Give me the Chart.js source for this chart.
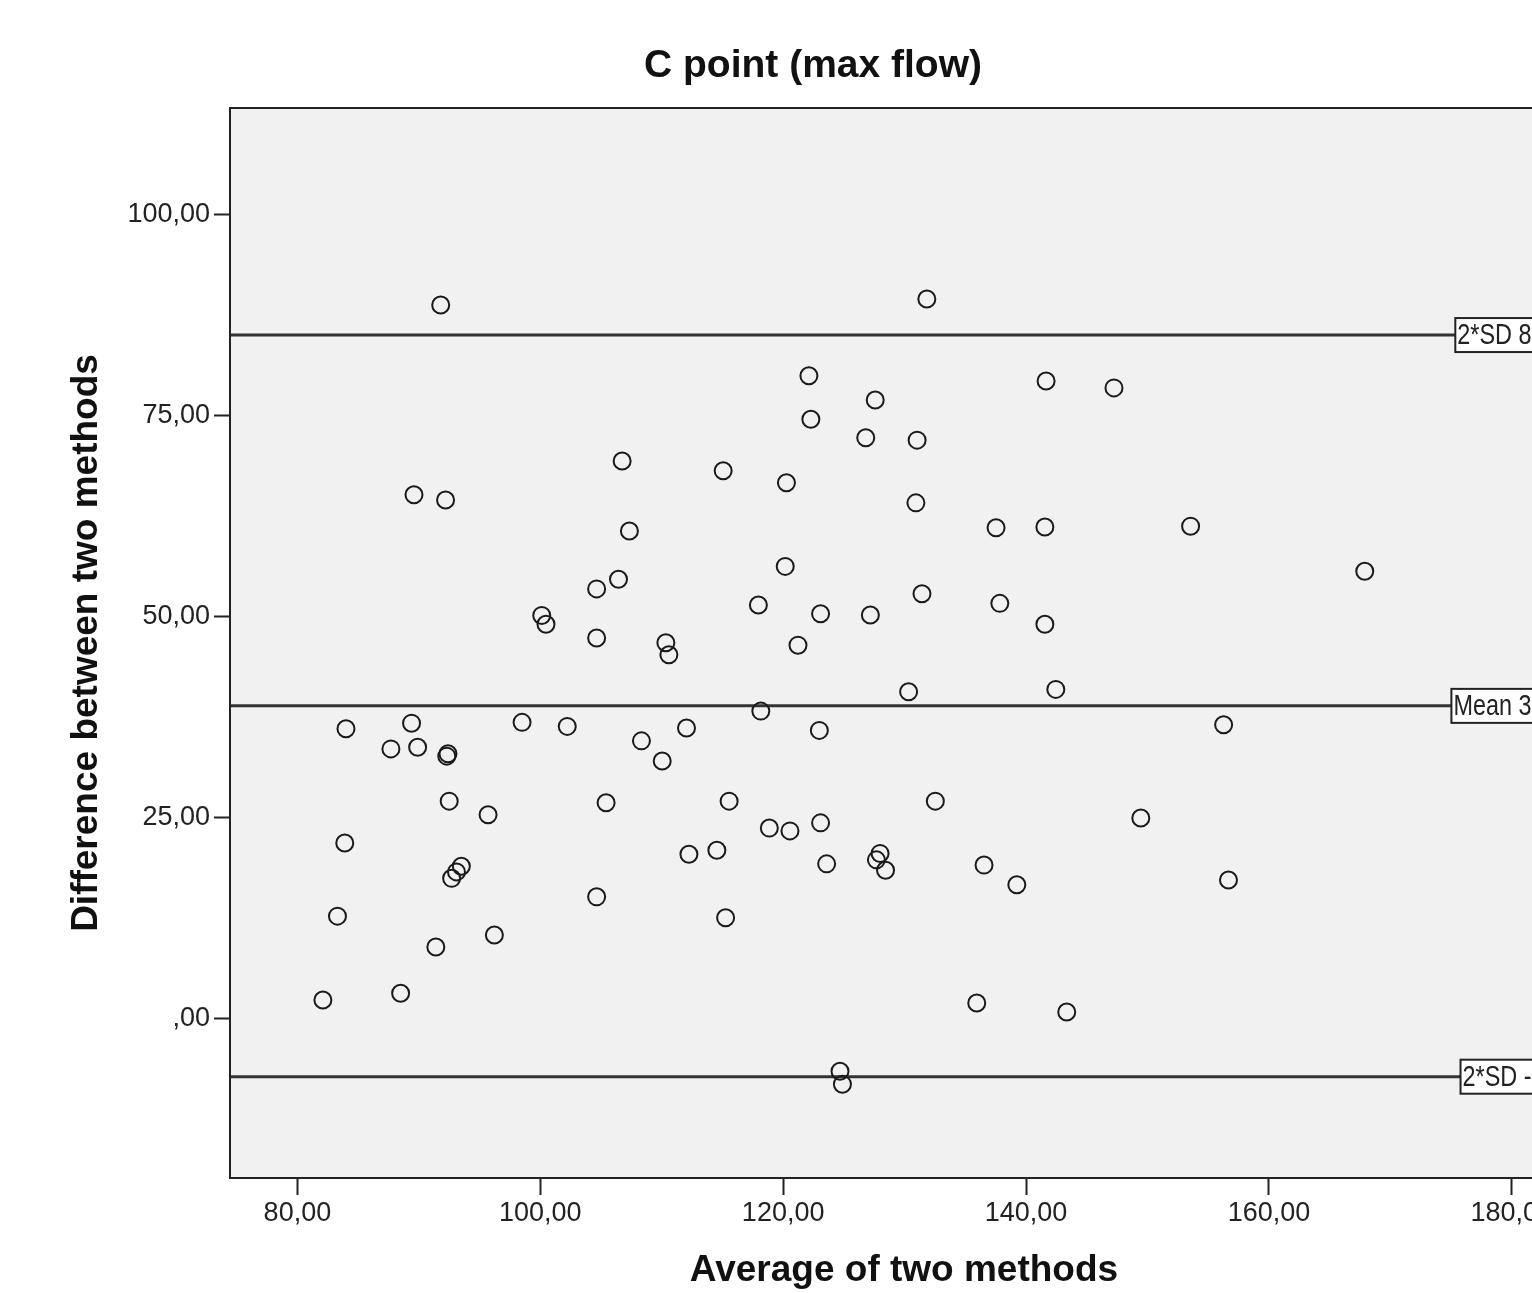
<!DOCTYPE html>
<html>
<head>
<meta charset="utf-8">
<title>C point (max flow)</title>
<script src="https://cdn.jsdelivr.net/npm/chart.js@4.4.1/dist/chart.umd.min.js"></script>
<style>
  html, body { margin: 0; padding: 0; background: #fff; overflow: hidden; }
  canvas { display: block; }
</style>
</head>
<body>
<canvas id="blandAltman" width="1626" height="1293"></canvas>
<script>
// averages of the two methods (x) and their differences (y)
const avgVals = [
  91.8, 131.83, 122.12, 141.65, 147.24, 127.58, 122.28, 126.8, 131.03, 106.74,
  115.06, 89.6, 92.2, 120.27, 130.93, 107.34, 137.53, 141.55, 153.55, 167.89,
  120.17, 106.44, 104.64, 131.43, 117.96, 137.84, 100.12, 100.47, 123.08, 127.18,
  141.55, 104.64, 110.34, 110.59, 121.22, 130.33, 142.45, 118.16, 84.0, 89.4,
  87.7, 89.9, 92.4, 92.3, 98.5, 102.22, 108.33, 110.04, 112.04, 122.98,
  156.27, 92.5, 95.7, 105.42, 115.55, 132.53, 149.45, 83.9, 118.86, 120.56,
  123.08, 112.24, 114.54, 123.58, 127.68, 127.98, 128.43, 136.54, 139.24, 156.67,
  93.5, 93.1, 92.7, 104.64, 83.3, 115.26, 96.22, 91.4, 82.1, 88.5,
  135.94, 143.35, 124.68, 124.88
];
const diffVals = [
  88.71, 89.46, 79.91, 79.26, 78.41, 76.91, 74.51, 72.21, 71.91, 69.31,
  68.11, 65.11, 64.46, 66.61, 64.11, 60.61, 61.01, 61.11, 61.21, 55.61,
  56.21, 54.61, 53.41, 52.81, 51.41, 51.61, 50.11, 49.01, 50.31, 50.16,
  49.01, 47.31, 46.71, 45.21, 46.41, 40.61, 40.91, 38.21, 36.01, 36.71,
  33.51, 33.71, 32.91, 32.61, 36.81, 36.31, 34.51, 32.01, 36.11, 35.81,
  36.51, 27.01, 25.31, 26.81, 27.01, 27.01, 24.91, 21.81, 23.66, 23.31,
  24.31, 20.41, 20.91, 19.21, 19.71, 20.51, 18.41, 19.06, 16.61, 17.21,
  18.91, 18.21, 17.41, 15.11, 12.71, 12.51, 10.36, 8.87, 2.27, 3.11,
  1.91, 0.78, -6.59, -8.19
];

// reference lines (mean difference and limits of agreement)
const refValues = [84.98, 38.86, -7.26];
const refLabels = ['2*SD 84,98', 'Mean 38,86', '2*SD -7,26'];

// axis ticks
const xTickValues = [80, 100, 120, 140, 160, 180];
const yTickValues = [0, 25, 50, 75, 100];
const xMin = 74.45, xMax = 185.45;
const yMin = -19.86, yMax = 113.22;

const fontFamily = '"Liberation Sans", Arial, sans-serif';
const ink = '#222222';

function spssNum(v) {
  // SPSS style: comma decimal, no leading zero
  const s = v.toFixed(2).replace('.', ',');
  return s.replace(/^0,/, ',').replace(/^-0,/, '-,');
}

const points = avgVals.map((x, i) => ({ x: x, y: diffVals[i] }));

const refDatasets = refValues.map(v => ({
  type: 'line',
  data: [{ x: xMin, y: v }, { x: xMax, y: v }],
  borderColor: '#333333',
  borderWidth: 3,
  pointRadius: 0,
  fill: false,
  order: 2
}));

const plotFrame = {
  id: 'plotFrame',
  beforeDatasetsDraw(chart) {
    const { ctx, chartArea: a } = chart;
    ctx.save();
    ctx.fillStyle = '#f0f1f0';
    ctx.fillRect(a.left, a.top, a.right - a.left, a.bottom - a.top);
    ctx.restore();
  },
  afterDraw(chart) {
    const { ctx, chartArea: a } = chart;
    ctx.save();
    ctx.strokeStyle = ink;
    ctx.lineWidth = 2;
    ctx.strokeRect(a.left, a.top, a.right - a.left, a.bottom - a.top);
    ctx.restore();
  }
};

const refLabelBoxes = {
  id: 'refLabelBoxes',
  afterDatasetsDraw(chart) {
    const { ctx, chartArea: a, scales } = chart;
    const sx = 0.78;
    ctx.save();
    ctx.font = '30px ' + fontFamily;
    ctx.textBaseline = 'middle';
    refValues.forEach((v, i) => {
      const y = scales.y.getPixelForValue(v);
      const w = ctx.measureText(refLabels[i]).width * sx + 3;
      const h = 34;
      const left = a.right - w;
      ctx.fillStyle = '#ffffff';
      ctx.fillRect(left, y - h / 2, w, h);
      ctx.strokeStyle = ink;
      ctx.lineWidth = 2;
      ctx.strokeRect(left, y - h / 2, w, h);
      ctx.fillStyle = ink;
      ctx.save();
      ctx.translate(left + 2, y + 1);
      ctx.scale(sx, 1);
      ctx.fillText(refLabels[i], 0, 0);
      ctx.restore();
    });
    ctx.restore();
  }
};

new Chart(document.getElementById('blandAltman').getContext('2d'), {
  type: 'scatter',
  data: {
    datasets: [{
      data: points,
      borderColor: '#1a1a1a',
      backgroundColor: 'rgba(0,0,0,0)',
      pointRadius: 8.5,
      pointBorderWidth: 2,
      pointHoverRadius: 8.5,
      order: 1
    }].concat(refDatasets)
  },
  options: {
    responsive: false,
    animation: false,
    devicePixelRatio: 1,
    layout: { padding: { left: 48, right: 48, top: 0, bottom: 0 } },
    plugins: {
      legend: { display: false },
      tooltip: { enabled: false },
      title: {
        display: true,
        text: 'C point (max flow)',
        color: '#111',
        font: { family: fontFamily, size: 39, weight: 'bold' },
        padding: { top: 43, bottom: 18.2 }
      }
    },
    scales: {
      x: {
        type: 'linear',
        min: xMin,
        max: xMax,
        afterFit(scale) { scale.height = 115; },
        afterBuildTicks(scale) { scale.ticks = xTickValues.map(v => ({ value: v })); },
        border: { display: false },
        grid: {
          drawOnChartArea: false,
          drawTicks: true,
          tickLength: 17,
          tickColor: ink,
          tickWidth: 2
        },
        ticks: {
          color: ink,
          padding: 2,
          maxRotation: 0,
          font: { family: fontFamily, size: 27 },
          callback: v => spssNum(v)
        },
        title: {
          display: true,
          text: 'Average of two methods',
          color: '#111',
          font: { family: fontFamily, size: 37, weight: 'bold' },
          padding: { top: 0, bottom: 0 }
        }
      },
      y: {
        type: 'linear',
        min: yMin,
        max: yMax,
        afterFit(scale) { scale.width = 182; },
        afterBuildTicks(scale) { scale.ticks = yTickValues.map(v => ({ value: v })); },
        border: { display: false },
        grid: {
          drawOnChartArea: false,
          drawTicks: true,
          tickLength: 16,
          tickColor: ink,
          tickWidth: 2
        },
        ticks: {
          color: ink,
          padding: 4,
          font: { family: fontFamily, size: 27 },
          callback: v => spssNum(v)
        },
        title: {
          display: true,
          text: 'Difference between two methods',
          color: '#111',
          font: { family: fontFamily, size: 37, weight: 'bold' },
          padding: { top: 17, bottom: 0 }
        }
      }
    }
  },
  plugins: [plotFrame, refLabelBoxes]
});
</script>
</body>
</html>
